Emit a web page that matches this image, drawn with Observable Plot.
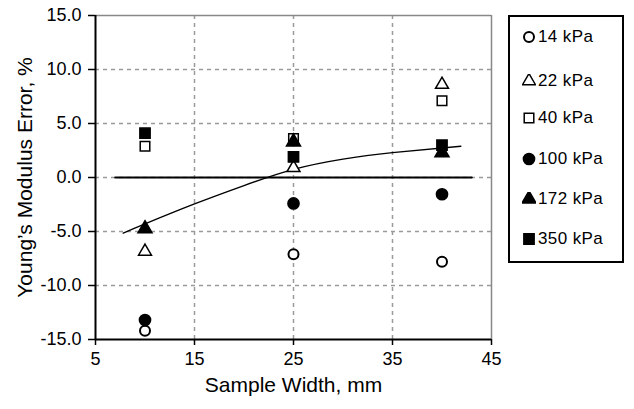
<!DOCTYPE html>
<html><head><meta charset="utf-8">
<script src="https://cdn.jsdelivr.net/npm/d3@7"></script>
<script src="https://cdn.jsdelivr.net/npm/@observablehq/plot@0.6"></script>
<style>
body{margin:0;background:#fff;font-family:"Liberation Sans",Arial,sans-serif;}
#wrap{position:relative;width:634px;height:409px;overflow:hidden;}
#legend{position:absolute;left:508px;top:15px;width:112px;height:244px;border:2px solid #000;background:#fff;}
.item{position:absolute;left:0;height:24px;display:flex;align-items:center;font-size:17px;letter-spacing:0.4px;color:#000;}
.item svg{margin-left:12px;margin-right:2px;}
</style></head><body><div id="wrap"></div>
<script>
// ---- data ----
const widths = [10, 25, 40];
const seriesNames = ["14 kPa", "22 kPa", "40 kPa", "100 kPa", "172 kPa", "350 kPa"];
const s14  = [-14.2, -7.1, -7.8];
const s22  = [-6.85, 0.9, 8.6];
const s40  = [2.9, 3.6, 7.1];
const s100 = [-13.2, -2.4, -1.55];
const s172 = [-4.75, 3.3, 2.3];
const s350 = [4.1, 1.9, 3.0];
const trendX = [7.8, 10, 15, 20, 25, 30, 35, 41.9];
const trendY = [-5.15, -4.3, -2.45, -0.75, 0.75, 1.7, 2.3, 2.9];
const zeroLineX = [7, 43];
const xTicks = [5, 15, 25, 35, 45];
const yTicks = [-15, -10, -5, 0, 5, 10, 15];
const xLabel = "Sample Width, mm";
const yLabel = "Young\u2019s Modulus Error, %";

// ---- styles ----
const seriesValues = [s14, s22, s40, s100, s172, s350];
const styles = [
  {symbol: "circle",   fill: "#fff", r: 5.0, sw: 2},
  {symbol: "triangle", fill: "#fff", r: 4.8, sw: 1.5},
  {symbol: "square",   fill: "#fff", r: 5.4, sw: 1.5},
  {symbol: "circle",   fill: "#000", r: 5.6, sw: 1.5},
  {symbol: "triangle", fill: "#000", r: 5.2, sw: 1.5},
  {symbol: "square",   fill: "#000", r: 5.8, sw: 1.5}
];

const dotMarks = seriesValues.map((vals, i) => {
  const data = widths.map((w, j) => ({x: w, y: vals[j], s: seriesNames[i]}));
  return Plot.dot(data, {x: "x", y: "y", symbol: () => styles[i].symbol, r: styles[i].r,
    fill: styles[i].fill, stroke: "#000", strokeWidth: styles[i].sw});
});

const grid = {stroke: "#9a9a9a", strokeOpacity: 1, strokeDasharray: "4,4", strokeWidth: 1.5};

const chart = Plot.plot({
  width: 634, height: 409,
  marginLeft: 95, marginRight: 143, marginTop: 15, marginBottom: 70,
  style: {fontFamily: "'Liberation Sans', Arial, sans-serif", background: "#fff"},
  x: {domain: [5, 45]},
  y: {domain: [-15, 15]},
  symbol: {type: "identity"},
  marks: [
    Plot.gridX(xTicks.slice(1, -1), grid),
    Plot.gridY(yTicks.slice(1, -1), grid),
    Plot.ruleY([15], {stroke: "#888", strokeWidth: 1.5}),
    Plot.ruleX([45], {stroke: "#888", strokeWidth: 1.5}),
    Plot.ruleX([5], {stroke: "#000", strokeWidth: 2}),
    Plot.ruleY([-15], {stroke: "#000", strokeWidth: 2}),
    Plot.axisX(xTicks, {tickSize: 6, tickPadding: 7, fontSize: 18, stroke: "#000", strokeWidth: 1.5,
      tickFormat: d => String(d), label: null, style: {letterSpacing: "0.6px"}}),
    Plot.axisY(yTicks, {tickSize: 7, tickPadding: 7, fontSize: 18, stroke: "#000", strokeWidth: 1.5,
      tickFormat: d => d.toFixed(1), label: null, style: {letterSpacing: "0.6px"}}),
    Plot.text([xLabel], {text: d => d, frameAnchor: "bottom", dy: 52, fontSize: 21, fill: "#000"}),
    Plot.text([yLabel], {text: d => d, frameAnchor: "left", textAnchor: "middle", dx: -70, rotate: -90, fontSize: 21, fill: "#000"}),
    Plot.line(zeroLineX.map(x => ({x, y: 0})), {x: "x", y: "y", stroke: "#000", strokeWidth: 2.2}),
    Plot.line(trendX.map((x, i) => ({x, y: trendY[i]})), {x: "x", y: "y", curve: "natural", stroke: "#000", strokeWidth: 1.4}),
    ...dotMarks
  ]
});

const wrap = document.getElementById("wrap");
wrap.appendChild(chart);

// legend
const legend = document.createElement("div");
legend.id = "legend";
const rowY = [20, 64, 101, 142, 182, 222];
seriesNames.forEach((name, i) => {
  const item = document.createElement("div");
  item.className = "item";
  item.style.top = (rowY[i] - 12) + "px";
  const sym = {circle: d3.symbolCircle, triangle: d3.symbolTriangle, square: d3.symbolSquare}[styles[i].symbol];
  const size = Math.PI * styles[i].r * styles[i].r;
  const svg = d3.create("svg").attr("width", 14).attr("height", 14);
  svg.append("path").attr("transform", "translate(7,7)")
    .attr("d", d3.symbol(sym, size)())
    .attr("fill", styles[i].fill).attr("stroke", "#000").attr("stroke-width", styles[i].sw);
  item.appendChild(svg.node());
  const t = document.createElement("span");
  t.textContent = name;
  item.appendChild(t);
  legend.appendChild(item);
});
wrap.appendChild(legend);
</script>
</body></html>
